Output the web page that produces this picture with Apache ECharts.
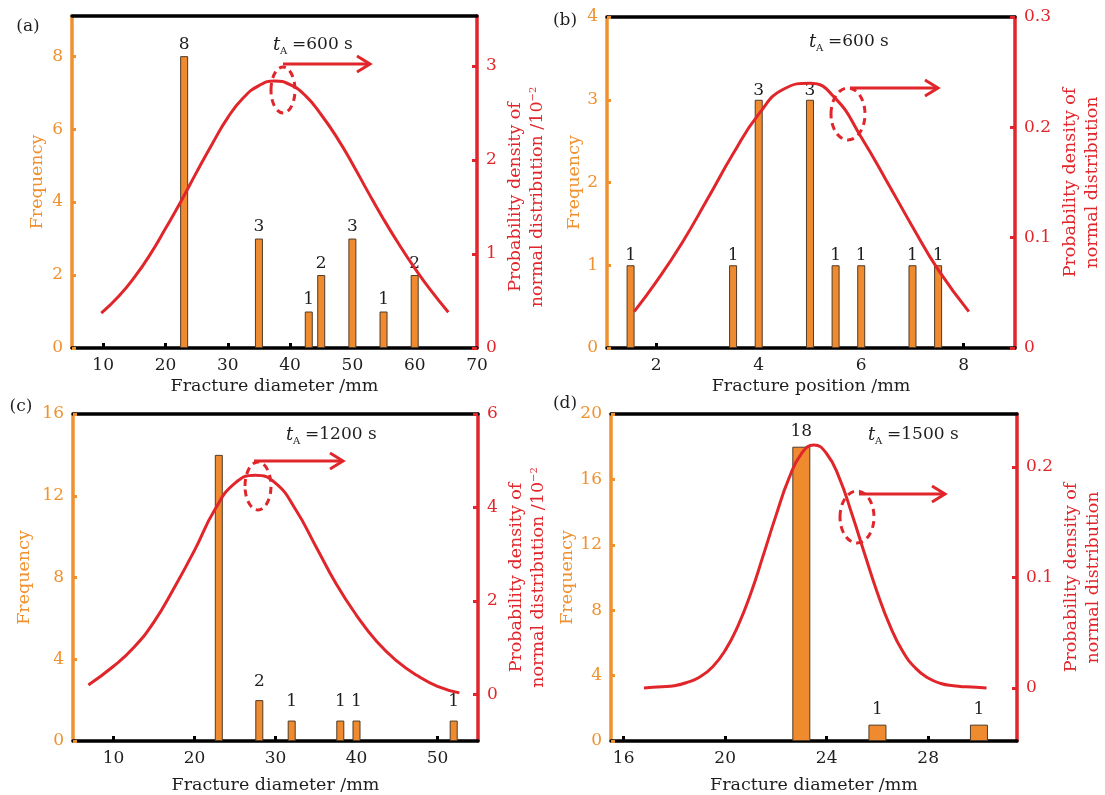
<!DOCTYPE html>
<html>
<head>
<meta charset="utf-8">
<script src="https://cdn.jsdelivr.net/npm/echarts@6/dist/echarts.min.js"></script>
<style>
  html, body { margin: 0; padding: 0; background: #fff; }
  #chart { width: 1105px; height: 795px; }
</style>
</head>
<body>
<div id="chart"></div>
<script>
// (a) fracture diameter, tA = 600 s
const aPos = [23, 35, 43, 45, 50, 55, 60];
const aFreq = [8, 3, 1, 2, 3, 1, 2];
const aCurveX = [9.7, 12.5, 15, 17.5, 20, 22.5, 25, 27.5, 30, 32.5, 35, 37.5, 40, 42.5, 45, 47.5, 50, 52.5, 55, 57.5, 60, 62.5, 65.4];
const aCurveY = [0.37, 0.55, 0.75, 0.99, 1.27, 1.56, 1.87, 2.17, 2.45, 2.66, 2.79, 2.84, 2.8, 2.68, 2.48, 2.24, 1.96, 1.66, 1.37, 1.1, 0.85, 0.62, 0.38];
const aXTicks = [10, 20, 30, 40, 50, 60, 70];
const aFreqTicks = [0, 2, 4, 6, 8];
const aPdfTicks = [0, 1, 2, 3];

// (b) fracture position, tA = 600 s
const bPos = [1.5, 3.5, 4, 5, 5.5, 6, 7, 7.5];
const bFreq = [1, 1, 3, 3, 1, 1, 1, 1];
const bCurveX = [1.57, 2, 2.5, 3, 3.5, 4, 4.5, 5, 5.5, 6, 6.5, 7, 7.5, 8.1];
const bCurveY = [0.033, 0.06, 0.095, 0.135, 0.176, 0.212, 0.235, 0.24, 0.226, 0.191, 0.151, 0.11, 0.071, 0.033];
const bXTicks = [2, 4, 6, 8];
const bFreqTicks = [0, 1, 2, 3, 4];
const bPdfTicks = [0, 0.1, 0.2, 0.3];

// (c) fracture diameter, tA = 1200 s
const cPos = [23, 28, 32, 38, 40, 52];
const cFreq = [14, 2, 1, 1, 1, 1];
const cCurveX = [6.9, 10, 12.5, 15, 17.5, 20, 22.5, 25, 27.5, 30, 32.5, 35, 37.5, 40, 42.5, 45, 47.5, 50, 52.7];
const cCurveY = [0.2, 0.6, 1.0, 1.55, 2.28, 3.08, 3.95, 4.52, 4.69, 4.52, 3.95, 3.16, 2.36, 1.69, 1.13, 0.71, 0.4, 0.17, 0.03];
const cXTicks = [10, 20, 30, 40, 50];
const cFreqTicks = [0, 4, 8, 12, 16];
const cPdfTicks = [0, 2, 4, 6];

// (d) fracture diameter, tA = 1500 s
const dPos = [23, 26, 30];
const dFreq = [18, 1, 1];
const dCurveX = [16.8, 17.5, 18, 18.5, 19, 19.5, 20, 20.5, 21, 21.5, 22, 22.5, 23, 23.5, 24, 24.5, 25, 25.5, 26, 26.5, 27, 27.5, 28, 28.5, 29, 29.5, 30.3];
const dCurveY = [0, 0.001, 0.002, 0.005, 0.01, 0.019, 0.034, 0.056, 0.085, 0.12, 0.156, 0.189, 0.212, 0.22, 0.212, 0.19, 0.157, 0.121, 0.086, 0.056, 0.033, 0.018, 0.009, 0.004, 0.002, 0.001, 0];
const dXTicks = [16, 20, 24, 28];
const dFreqTicks = [0, 4, 8, 12, 16, 20];
const dPdfTicks = [0, 0.1, 0.2];

const FONT = 'DejaVu Serif';
const ORANGE = '#F0912F';
const BAR = '#F08A2E';
const RED = '#E1262B';
const INK = '#1e1e1e';

const panels = [
  { tag: '(a)', tagXY: [28, 27], grid: { left: 72, top: 16, width: 405, height: 332 },
    pos: aPos, freq: aFreq, cx: aCurveX, cy: aCurveY, barW: 8, labDist: 3, hideLab: [],
    x: [5, 70], xTicks: aXTicks, xTickMarks: aXTicks.slice(0, 6), xName: 'Fracture diameter /mm', xGap: 29,
    f: [0, 9.1], fTicks: aFreqTicks, fGap: 26,
    p: [0, 3.53], pTicks: aPdfTicks, pGap: 27, pUnit: true, pPad: [0, 30, 0, 0],
    note: { text: '=600 s', x: 273, y: 45, ex: 283, ey: 90, rx: 12, ry: 23, ay: 64, a0: 283, a1: 370 } },
  { tag: '(b)', tagXY: [565, 21], grid: { left: 607, top: 17, width: 408, height: 331 },
    pos: bPos, freq: bFreq, cx: bCurveX, cy: bCurveY, barW: 8, labDist: 1, hideLab: [],
    x: [1.04, 9], xTicks: bXTicks, xTickMarks: bXTicks, xName: 'Fracture position /mm', xGap: 29,
    f: [0, 4], fTicks: bFreqTicks, fGap: 24,
    p: [0, 0.3], pTicks: bPdfTicks, pGap: 44, pUnit: false, pPad: [0, 0, 0, 0],
    note: { text: '=600 s', x: 809, y: 42, ex: 848, ey: 114, rx: 17, ry: 26, ay: 88, a0: 850, a1: 938 } },
  { tag: '(c)', tagXY: [21, 407], grid: { left: 73, top: 414, width: 405, height: 328 },
    pos: cPos, freq: cFreq, cx: cCurveX, cy: cCurveY, barW: 8, labDist: 10, hideLab: [0],
    x: [5, 55], xTicks: cXTicks, xTickMarks: cXTicks, xName: 'Fracture diameter /mm', xGap: 35,
    f: [0, 16], fTicks: cFreqTicks, fGap: 40,
    p: [-1, 6], pTicks: cPdfTicks, pGap: 27, pUnit: true, pPad: [0, 0, 0, 0],
    note: { text: '=1200 s', x: 286, y: 435, ex: 258, ey: 486, rx: 13, ry: 24, ay: 461, a0: 254, a1: 343 } },
  { tag: '(d)', tagXY: [565, 404], grid: { left: 611, top: 414, width: 407, height: 328 },
    pos: dPos, freq: dFreq, cx: dCurveX, cy: dCurveY, barW: 18, labDist: 7, hideLab: [],
    x: [15.5, 31.5], xTicks: dXTicks, xTickMarks: dXTicks, xName: 'Fracture diameter /mm', xGap: 35,
    f: [0, 20], fTicks: dFreqTicks, fGap: 35,
    p: [-0.048, 0.248], pTicks: dPdfTicks, pGap: 43, pUnit: false, pPad: [0, 0, 0, 0],
    note: { text: '=1500 s', x: 868, y: 435, ex: 857, ey: 517, rx: 17, ry: 26, ay: 494, a0: 859, a1: 945 } }
];

const grids = [], xAxes = [], yAxes = [], series = [], graphics = [];

panels.forEach(function (pn, i) {
  grids.push(pn.grid);

  // bottom axis
  xAxes.push({
    type: 'value', gridIndex: i, position: 'bottom', min: pn.x[0], max: pn.x[1],
    name: pn.xName, nameLocation: 'middle', nameGap: pn.xGap,
    nameTextStyle: { color: INK, fontSize: 17.5, fontFamily: FONT },
    axisLine: { onZero: false, lineStyle: { color: '#000', width: 3.5 } },
    axisTick: { show: true, inside: true, length: 5, lineStyle: { color: '#000', width: 3 }, customValues: pn.xTickMarks },
    axisLabel: { color: INK, fontSize: 17, fontFamily: FONT, margin: 9, customValues: pn.xTicks },
    splitLine: { show: false }
  });
  // top frame line
  xAxes.push({
    type: 'value', gridIndex: i, position: 'top', min: pn.x[0], max: pn.x[1],
    axisLine: { onZero: false, lineStyle: { color: '#000', width: 3.5 } },
    axisTick: { show: false }, axisLabel: { show: false }, splitLine: { show: false }
  });

  yAxes.push({
    type: 'value', gridIndex: i, position: 'left', min: pn.f[0], max: pn.f[1],
    name: 'Frequency', nameLocation: 'middle', nameGap: pn.fGap, nameRotate: 90,
    nameTextStyle: { color: ORANGE, fontSize: 17.5, fontFamily: FONT },
    axisLine: { show: true, onZero: false, lineStyle: { color: ORANGE, width: 3.5 } },
    axisTick: { show: true, inside: true, length: 4, lineStyle: { color: ORANGE, width: 3 }, customValues: pn.fTicks },
    axisLabel: { color: ORANGE, fontSize: 17, fontFamily: FONT, margin: 9, customValues: pn.fTicks },
    splitLine: { show: false }
  });

  const pName = pn.pUnit
    ? '{n|Probability density of}\n{n|normal distribution /10}{s|−2}'
    : '{n|Probability density of}\n{n|normal distribution}';
  yAxes.push({
    type: 'value', gridIndex: i, position: 'right', min: pn.p[0], max: pn.p[1],
    name: pName, nameLocation: 'middle', nameGap: pn.pGap, nameRotate: 90,
    nameTextStyle: {
      color: RED, fontSize: 17.5, fontFamily: FONT, lineHeight: 22, padding: pn.pPad,
      rich: {
        n: { color: RED, fontSize: 17.5, fontFamily: FONT, lineHeight: 22 },
        s: { color: RED, fontSize: 10, fontFamily: FONT, lineHeight: 22, padding: [0, 0, 8, 0] }
      }
    },
    axisLine: { show: true, onZero: false, lineStyle: { color: RED, width: 3.5 } },
    axisTick: { show: true, inside: true, length: 5, lineStyle: { color: RED, width: 3 }, customValues: pn.pTicks },
    axisLabel: { color: RED, fontSize: 17, fontFamily: FONT, margin: 9, customValues: pn.pTicks },
    splitLine: { show: false }
  });

  series.push({
    type: 'bar', xAxisIndex: 2 * i, yAxisIndex: 2 * i, barWidth: pn.barW,
    itemStyle: { color: BAR, borderColor: '#4f3b28', borderWidth: 1 },
    label: { show: true, position: 'top', distance: pn.labDist, color: INK, fontSize: 17, fontFamily: FONT,
      formatter: function (p) { return p.value[1]; } },
    data: pn.pos.map(function (x, k) {
      const item = { value: [x, pn.freq[k]] };
      if (pn.hideLab.indexOf(k) >= 0) item.label = { show: false };
      return item;
    })
  });

  series.push({
    type: 'line', xAxisIndex: 2 * i, yAxisIndex: 2 * i + 1, smooth: true, showSymbol: false,
    lineStyle: { color: RED, width: 3 }, z: 5,
    data: pn.cx.map(function (x, k) { return [x, pn.cy[k]]; })
  });

  // panel tag
  graphics.push({ type: 'text', x: pn.tagXY[0], y: pn.tagXY[1],
    style: { text: pn.tag, fill: INK, font: '17px "' + FONT + '"', align: 'center', verticalAlign: 'middle' } });

  // t_A annotation
  const nt = pn.note;
  graphics.push({ type: 'text', x: nt.x, y: nt.y,
    style: { text: 't', fill: INK, font: 'italic 18px "' + FONT + '"', align: 'left', verticalAlign: 'middle' } });
  graphics.push({ type: 'text', x: nt.x + 7, y: nt.y + 6,
    style: { text: 'A', fill: INK, font: '10px "' + FONT + '"', align: 'left', verticalAlign: 'middle' } });
  graphics.push({ type: 'text', x: nt.x + 19, y: nt.y,
    style: { text: nt.text, fill: INK, font: '17px "' + FONT + '"', align: 'left', verticalAlign: 'middle' } });

  // dashed ellipse and arrow
  graphics.push({ type: 'ellipse', shape: { cx: nt.ex, cy: nt.ey, rx: nt.rx, ry: nt.ry },
    style: { fill: 'none', stroke: RED, lineWidth: 3, lineDash: [7, 5] }, z: 10 });
  graphics.push({ type: 'polyline', shape: { points: [[nt.a0, nt.ay], [nt.a1, nt.ay]] },
    style: { stroke: RED, lineWidth: 3, fill: 'none' }, z: 10 });
  graphics.push({ type: 'polyline', shape: { points: [[nt.a1 - 13, nt.ay - 8], [nt.a1, nt.ay], [nt.a1 - 13, nt.ay + 8]] },
    style: { stroke: RED, lineWidth: 3, fill: 'none' }, z: 10 });
});

const chart = echarts.init(document.getElementById('chart'), null, { renderer: 'canvas' });
chart.setOption({
  backgroundColor: '#fff',
  animation: false,
  textStyle: { fontFamily: FONT },
  grid: grids,
  xAxis: xAxes,
  yAxis: yAxes,
  series: series,
  graphic: graphics
});
</script>
</body>
</html>
